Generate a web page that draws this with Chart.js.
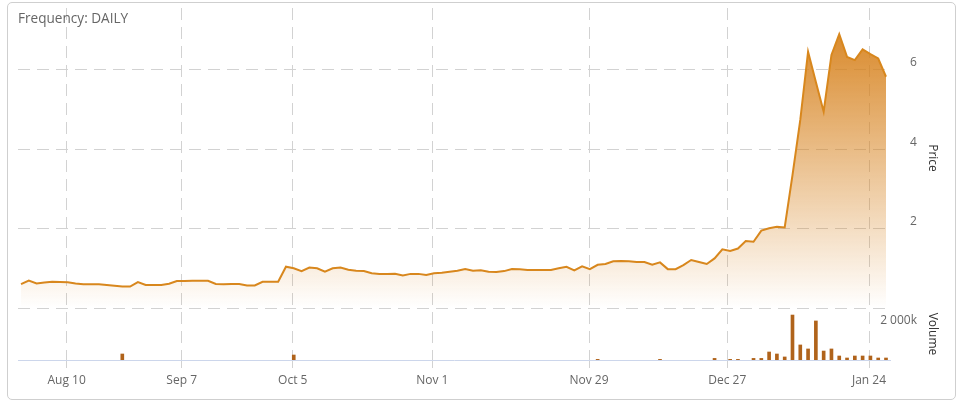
<!DOCTYPE html>
<html>
<head>
<meta charset="utf-8">
<script src="https://cdn.jsdelivr.net/npm/chart.js"></script>
<style>
  html, body { margin: 0; padding: 0; background: #ffffff; }
  #wrap { position: relative; width: 964px; height: 409px; overflow: hidden; }
  #frame { position: absolute; left: 7px; top: 2px; width: 949px; height: 398px; box-sizing: border-box;
           border: 1px solid #cfcfcf; border-radius: 5px; }
  #freq { position: absolute; left: 18px; top: 11px; font: 13.6px/13px 'Open Sans', sans-serif; color: #666666; z-index: 2; white-space: nowrap; }
  canvas { position: absolute; left: 0; top: 0; }
</style>
</head>
<body>
<div id="wrap">
  <div id="frame"></div>
  <div id="freq">Frequency: DAILY</div>
  <canvas id="c" width="964" height="409"></canvas>
</div>
<script>
// ---- data (one value per trading day, equally spaced on an ordinal axis) ----
const prices = [
  0.60, 0.69, 0.62, 0.64, 0.66, 0.655, 0.65, 0.62, 0.60, 0.60,
  0.60, 0.58, 0.56, 0.54, 0.54, 0.655, 0.58, 0.58, 0.58, 0.61,
  0.68, 0.68, 0.69, 0.69, 0.685, 0.605, 0.60, 0.605, 0.605, 0.57,
  0.57, 0.66, 0.66, 0.66, 1.04, 1.00, 0.93, 1.02, 1.00, 0.915,
  1.00, 1.02, 0.965, 0.94, 0.93, 0.875, 0.86, 0.86, 0.865, 0.82,
  0.86, 0.86, 0.83, 0.875, 0.89, 0.915, 0.94, 0.98, 0.94, 0.95,
  0.915, 0.91, 0.93, 0.98, 0.975, 0.96, 0.96, 0.96, 0.96, 1.00,
  1.04, 0.95, 1.05, 0.98, 1.09, 1.11, 1.18, 1.185, 1.18, 1.16,
  1.16, 1.09, 1.15, 0.98, 0.98, 1.08, 1.21, 1.16, 1.11, 1.25,
  1.48, 1.44, 1.50, 1.69, 1.67, 1.95, 2.01, 2.05, 2.03, 3.35,
  4.74, 6.46, 5.70, 4.95, 6.38, 6.90, 6.33, 6.25, 6.52, 6.40,
  6.29, 5.83
];
// volume in thousands
const volumes = [
  0, 0, 0, 0, 0, 0, 0, 0, 0, 0,
  0, 0, 0, 375, 0, 0, 0, 0, 0, 0,
  0, 0, 0, 0, 0, 0, 0, 0, 0, 0,
  0, 0, 0, 0, 0, 312, 0, 0, 0, 0,
  0, 0, 0, 0, 0, 0, 0, 0, 0, 0,
  0, 0, 0, 0, 0, 0, 0, 0, 0, 0,
  0, 0, 0, 0, 0, 0, 0, 0, 0, 0,
  0, 0, 0, 0, 40, 0, 0, 0, 0, 0,
  0, 0, 40, 0, 0, 0, 0, 0, 0, 100,
  0, 40, 40, 0, 100, 100, 500, 375, 190, 2810,
  940, 690, 2440, 560, 690, 250, 125, 250, 250, 250,
  125, 125
];
// date tick labels and where they fall on the ordinal (trading-day index) axis
const xTickLabels = ['Aug 10', 'Sep 7', 'Oct 5', 'Nov 1', 'Nov 29', 'Dec 27', 'Jan 24'];
const xTickPositions = [5.86, 20.62, 34.87, 52.78, 72.89, 90.63, 108.82];
const priceTicks = [0, 2, 4, 6];
const volumeTicks = [2000];

// ---- chart ----
Chart.defaults.font.family = "'Open Sans', sans-serif";
Chart.defaults.font.size = 12;
Chart.defaults.color = '#666666';

const GRID = '#d2d2d2';
const DASH = [12, 7];
const LINE = '#d8871d';
const BAR = '#b0631b';

const pricePts = prices.map((p, i) => ({x: i, y: p}));
// days without trades get no bar at all
const volPts = volumes.map((v, i) => ({x: i, y: v === 0 ? null : v}));

function priceFill(context) {
  const chart = context.chart;
  const sc = chart.scales && chart.scales.y;
  if (!chart.chartArea || !sc) return 'rgba(216,135,29,0.2)';
  const g = chart.ctx.createLinearGradient(0, sc.top, 0, sc.bottom);
  g.addColorStop(0, 'rgba(214,128,26,1)');
  g.addColorStop(1, 'rgba(214,128,26,0)');
  return g;
}
const gridDash = (ctx) => (ctx.type === 'tick' ? DASH : []);

new Chart(document.getElementById('c'), {
  data: {
    datasets: [
      {
        type: 'line',
        label: 'Price',
        data: pricePts,
        yAxisID: 'y',
        borderColor: LINE,
        borderWidth: 2,
        pointRadius: 0,
        tension: 0,
        fill: 'origin',
        backgroundColor: priceFill,
        order: 1
      },
      {
        type: 'bar',
        label: 'Volume',
        data: volPts,
        yAxisID: 'y1',
        backgroundColor: BAR,
        barThickness: 3,
        order: 2
      }
    ]
  },
  options: {
    responsive: false,
    animation: false,
    devicePixelRatio: 1,
    layout: { padding: { left: 18, top: 8, right: 0, bottom: 0 } },
    plugins: { legend: { display: false }, tooltip: { enabled: false } },
    scales: {
      x: {
        type: 'linear',
        position: 'bottom',
        offset: false,
        min: -0.385,
        max: 111.513,
        afterBuildTicks: (axis) => { axis.ticks = xTickPositions.map(v => ({value: v})); },
        afterFit: (s) => { s.height = 49; s.paddingLeft = 0; s.paddingRight = 0; },
        ticks: {
          autoSkip: false, maxRotation: 0, padding: 5, color: '#666666',
          callback: (v, i) => xTickLabels[i]
        },
        grid: { color: GRID, offset: false, drawTicks: true, tickLength: 8, tickColor: GRID },
        border: { display: true, color: '#ccd6eb', width: 1, dash: gridDash }
      },
      y: {
        type: 'linear',
        position: 'right',
        stack: 'panes',
        stackWeight: 300,
        min: 0,
        max: 7.5628,
        afterBuildTicks: (axis) => { axis.ticks = priceTicks.map(v => ({value: v})); },
        afterFit: (s) => { s.width = 74; s.paddingTop = 0; s.paddingBottom = 0; },
        ticks: {
          padding: 20, crossAlign: 'near', labelOffset: -7, color: '#666666',
          callback: (v) => (v === 0 ? '' : String(v))
        },
        grid: { color: GRID, drawTicks: false },
        border: { display: false, dash: DASH },
        title: { display: true, text: 'Price', color: '#333333', font: { size: 12 }, padding: { top: 24, bottom: 0 } }
      },
      y1: {
        type: 'linear',
        position: 'right',
        stack: 'panes',
        stackWeight: 52,
        min: 0,
        max: 3250,
        afterBuildTicks: (axis) => { axis.ticks = volumeTicks.map(v => ({value: v})); },
        afterFit: (s) => { s.width = 74; s.paddingTop = 0; s.paddingBottom = 0; },
        ticks: {
          mirror: true, padding: 27, crossAlign: 'near', labelOffset: -7, color: '#666666',
          callback: (v) => (v / 1000) + ' 000k'
        },
        grid: { display: false, drawTicks: false },
        border: { display: false },
        title: { display: true, text: 'Volume', color: '#333333', font: { size: 12 }, padding: { top: 24, bottom: 0 } }
      }
    }
  }
});
</script>
</body>
</html>
